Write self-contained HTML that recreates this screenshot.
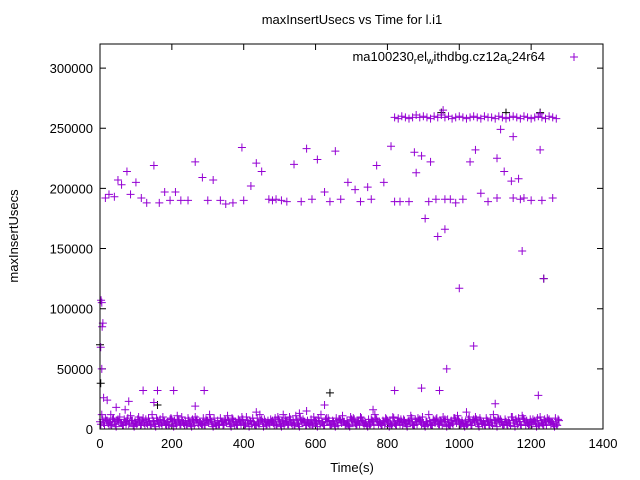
<!DOCTYPE html>
<html><head><meta charset="utf-8"><style>
body{margin:0;background:#fff}
svg{display:block;font-family:"Liberation Sans",sans-serif}
</style></head><body>
<svg id="c" width="640" height="480">
<text x="352" y="24" font-size="13" text-anchor="middle">maxInsertUsecs vs Time for l.i1</text>
<text x="352" y="472" font-size="13" text-anchor="middle">Time(s)</text>
<text x="18" y="236" font-size="13" text-anchor="middle" transform="rotate(-90 18 236)">maxInsertUsecs</text>
<g>
<text x="545" y="61" font-size="13" text-anchor="end">ma100230<tspan font-size="9" dy="3">r</tspan><tspan dy="-3">el</tspan><tspan font-size="9" dy="3">w</tspan><tspan dy="-3">ithdbg.cz12a</tspan><tspan font-size="9" dy="3">c</tspan><tspan dy="-3">24r64</tspan></text>
<path d="M570 57h8M574 53v8" stroke="#9400d3" stroke-width="1"/>
</g>
<g id="axes"></g>
<g id="marks"></g>
<rect x="100" y="44" width="503" height="385" fill="none" stroke="#000"/>
</svg>
<script>
const xTicks=[0,200,400,600,800,1000,1200,1400];
const yTicks=[0,50000,100000,150000,200000,250000,300000];
const upperT=[15,25,40,50,60,75,85,100,115,130,150,165,180,195,210,225,245,265,285,300,315,335,350,370,395,400,420,435,450,470,480,490,505,520,540,560,575,590,605,625,640,655,670,690,710,725,745,755,770,790,810,820,835,860,875,895,915,935,960,975,990,1010,1030,1060,1080,1105,1125,1150,1170,1180,1200,1230,1260];
const upperV=[192000,195000,193000,207000,203000,214000,195000,205000,192000,188000,219000,188000,197000,190000,197000,190000,190000,222000,209000,190000,207000,190000,187000,188000,234000,190000,202000,221000,214000,191000,190000,191000,190000,189000,220000,189000,233000,191000,224000,197000,189000,231000,191000,205000,199000,189000,201000,191000,219000,205000,235000,189000,189000,189000,230000,227000,189000,191000,191000,191000,188000,191000,222000,196000,189000,192000,214000,192000,191000,192000,190000,190000,192000];
const topT=[820,830,840,850,860,870,880,890,900,910,920,930,940,950,960,970,980,990,1000,1010,1020,1030,1040,1050,1060,1070,1080,1090,1100,1110,1120,1130,1140,1150,1160,1170,1180,1190,1200,1210,1220,1230,1240,1250,1260,1270,955,1225,1115];
const topV=[259000,258000,260000,259000,258000,259000,261000,259000,260000,259000,258000,260000,259000,261000,259000,260000,258000,259000,260000,259000,258000,259000,260000,259000,258000,260000,259000,259000,258000,260000,259000,258000,259000,260000,259000,258000,260000,259000,258000,259000,260000,259000,258000,260000,259000,258000,265000,262000,249000];
const midT=[5,3,8,6,2,5,940,960,965,945,1000,1040,1105,1150,1165,1145,1175,1225,1235,1045,880,905,920,150,160,205,265,290,435,510,555,575,625,760,820,895,1100,1220,1020,70,80,120,30,45,10,20];
const midV=[105000,107000,88000,85000,68000,50000,160000,166000,50000,32000,117000,69000,225000,243000,208000,206000,148000,232000,125000,232000,213000,175000,222000,22000,32000,32000,19000,32000,14000,12000,13000,15000,20000,16000,32000,34000,21000,28000,14000,16000,23000,32000,12000,18000,26000,24000];
const bandA=[6,5,7,4,6,8,5,6,4,7,5,6,9,5,4,6,7,5,6,4,8,5,6,7,4,5,6,8,5,4,7,6,5,4,6,7,5,8,4,6,5,7,6,4,5,8,6,5,7,4,6,5,6,8,4,5,7,6,5,4,6,7,5,9,4,6,5,7,6,4,8,5,6,7,5,4,6,8,5,6,7,4,5,9,6,5,7,4,6,8,5,6,4,7,5,6,8,4,5,7,6,5,4,6,8,5,7,4,6,5,7,8,4,6,5,7,6,4,8,5,6,7,4,5,6,8,5,4];
const bandB=[12,9,3,8,2,10,3,7,11,2,8,4,3,9,12,2,4,10,3,8,2,11,4,3,9,2,10,3,4,8,12,2,3,9,4,11,2,3,8,10,4,2,9,3,12,2,4,8,3,10,2,9,4,3,11,2,8,3,4,10,2,12,3,9,4,2,8,11,3,2,9,4,10,3,2,8,12,4,3,9,2,10,3,4,8,2,11,3,9,4,2,12,3,8,4,10,2,3,9,11,4,2,8,3,10,2,4,9,3,12,2,8,4,3,10,2,9,11,3,4,8,2,10,3,9,4,2,8];
const bandC=[4,3,5,3,4,6,3,4,5,3,4,3,5,4,3,4,5,3,4,3,6,3,4,5,3,4,3,5,4,3,5,4,3,4,3,5,4,6,3,4,3,5,4,3,4,6,3,4,5,3,4,3,4,5,3,4,5,3,4,3,5,4,3,6,3,4,3,5,4,3,6,3,4,5,3,4,3,6,3,4,5,3,4,6,3,4,5,3,4,6,3,4,3,5,4,3,6,3,4,5,4,3,4,3,6,4,5,3,4,3,5,6,3,4,3,5,4,3,6,3,4,5,3,4,3,6,4,3];
const bandD=[8,7,6,9,7,5,8,9,7,6,10,7,8,6,7,9,8,7,6,9,7,8,10,6,7,8,7,6,9,7,8,9,7,6,8,7,9,6,7,8,10,7,6,9,7,8,7,6,9,8,7,6,10,7,8,9,6,7,8,7,9,6,8,7,7,9,8,6,7,10,8,7,9,6,8,7,9,6,7,8,6,9,7,8,7,6,9,8,7,10,6,7,8,9,7,6,8,7,9,8,7,6,10,7,8,9,6,7,8,7,9,6,8,7,10,8,6,9,7,8,6,9,7,8,7,6,9,7];
const blackT=[0,2,950,1225,640,1235,1130,160];
const blackV=[70000,38000,263000,263000,30000,125000,263000,20000];
const NS="http://www.w3.org/2000/svg";
const X=t=>100+t*503/1400, Y=v=>429-v*385/320000;
const ax=document.getElementById('axes'), mk=document.getElementById('marks');
function add(p,tag,attrs){const e=document.createElementNS(NS,tag);for(const k in attrs)e.setAttribute(k,attrs[k]);p.appendChild(e);return e;}
xTicks.forEach(t=>{const x=X(t);
const g=add(ax,'g',{});


add(g,'path',{d:`M${x} 429v-6M${x} 44v6`,stroke:'#000'});
const tx=add(g,'text',{x:x,y:448,'font-size':13,'text-anchor':'middle'});tx.textContent=t;});
yTicks.forEach(v=>{const y=Y(v);
const g=add(ax,'g',{});


add(g,'path',{d:`M100 ${y}h6M603 ${y}h-6`,stroke:'#000'});
const tx=add(g,'text',{x:93,y:y+5,'font-size':13,'text-anchor':'end'});tx.textContent=v;});
function plus(t,v,c,name){const x=X(t),y=Y(v);
const p=add(mk,'path',{d:`M${x-4} ${y}h8M${x} ${y-4}v8`,stroke:c,'stroke-width':1});

}
blackT.forEach((t,i)=>plus(t,blackV[i],'#000','black-point'));
const P='#9400d3';
bandA.forEach((v,i)=>plus(i*10,v*1000,P,'band-point'));
bandB.forEach((v,i)=>plus(i*10+5,v*1000,P,'band-point'));
bandC.forEach((v,i)=>plus(i*10+2.5,v*1000,P,'band-point'));
bandD.forEach((v,i)=>plus(i*10+7.5,v*1000,P,'band-point'));
upperT.forEach((t,i)=>plus(t,upperV[i],P,'upper-point'));
topT.forEach((t,i)=>plus(t,topV[i],P,'top-point'));
midT.forEach((t,i)=>plus(t,midV[i],P,'mid-point'));
</script>
</body></html>
